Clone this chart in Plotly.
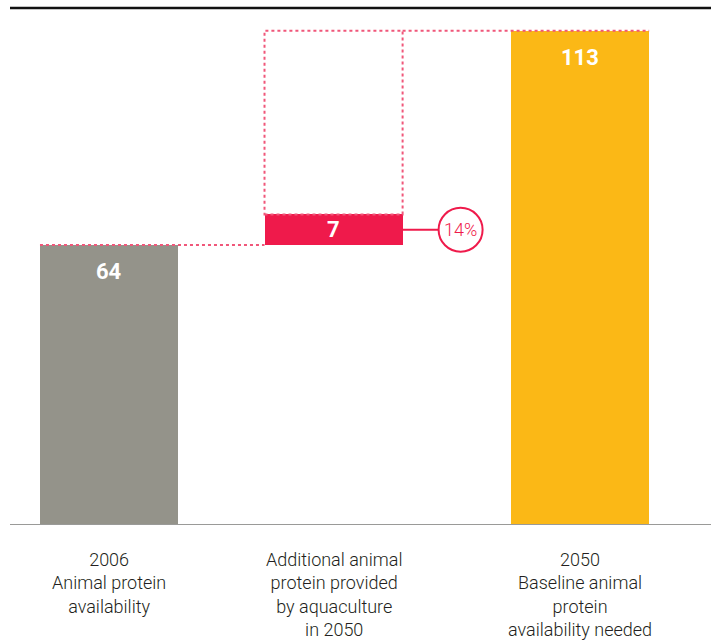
import plotly.graph_objects as go

# ---- data ----
categories = [
    "2006<br>Animal protein<br>availability",
    "Additional animal<br>protein provided<br>by aquaculture<br>in 2050",
    "2050<br>Baseline animal<br>protein<br>availability needed",
]
values = [64, 7, 113]
bases = [0, 64, 0]
value_labels = ["64", "7", "113"]
share_label = "14%"

# ---- style ----
x_pos = [0, 1, 2.098]
bar_w = 0.615
colors = ["#94938a", "#ef1a4b", "#fbb816"]
dot_color = "#f0577a"
font_txt = "Liberation Sans Narrow, Roboto, Arial, sans-serif"

fig = go.Figure()
fig.add_trace(go.Bar(
    x=x_pos, y=values, base=bases, width=bar_w,
    marker=dict(color=colors, line=dict(width=0)),
    hoverinfo="skip", showlegend=False,
))

half = bar_w / 2
tops = [b + v for b, v in zip(bases, values)]
shapes = []
dot = dict(color=dot_color, width=2, dash="dot")
# line from gray top to red bar left
shapes.append(dict(type="line", xref="x", yref="y",
                   x0=x_pos[0] - half, x1=x_pos[1] - half, y0=tops[0], y1=tops[0], line=dot))
# dashed box above red bar up to final total
shapes.append(dict(type="rect", xref="x", yref="y",
                   x0=x_pos[1] - half, x1=x_pos[1] + half, y0=tops[1], y1=tops[2],
                   line=dot, fillcolor="rgba(0,0,0,0)"))
# line from box top to orange bar
shapes.append(dict(type="line", xref="x", yref="y",
                   x0=x_pos[1] + half, x1=x_pos[2] + half, y0=tops[2], y1=tops[2], line=dot))
# top rule
shapes.append(dict(type="line", xref="paper", yref="paper", x0=0, x1=1, y0=1, y1=1,
                   line=dict(color="#111111", width=2.5)))
# baseline
shapes.append(dict(type="line", xref="paper", yref="y", x0=0, x1=1, y0=0, y1=0,
                   line=dict(color="#9a9a98", width=2)))
# connector and circle
mid_red = bases[1] + values[1] / 2
shapes.append(dict(type="line", xref="x", yref="y", xsizemode="pixel", xanchor=x_pos[1] + half,
                   x0=0, x1=36, y0=mid_red, y1=mid_red, line=dict(color=colors[1], width=2)))
shapes.append(dict(type="circle", xref="x", yref="y", xsizemode="pixel", ysizemode="pixel",
                   xanchor=x_pos[1] + half, yanchor=mid_red,
                   x0=36, x1=80, y0=-22, y1=22,
                   line=dict(color=colors[1], width=2), fillcolor="white"))

annotations = []
for i in range(3):
    if i == 1:
        annotations.append(dict(x=x_pos[i], y=mid_red, xref="x", yref="y", text="<b>%s</b>" % value_labels[i],
                                showarrow=False, font=dict(family=font_txt, size=22, color="white"),
                                yanchor="middle"))
    else:
        annotations.append(dict(x=x_pos[i], y=tops[i], xref="x", yref="y", text="<b>%s</b>" % value_labels[i],
                                showarrow=False, font=dict(family=font_txt, size=22, color="white"),
                                yanchor="top", yshift=-12))
    annotations.append(dict(x=x_pos[i], y=0, xref="x", yref="paper", text=categories[i],
                            showarrow=False,
                            font=dict(family=font_txt, size=18, color="#231f20", weight=300),
                            yanchor="top", yshift=-22, align="center"))
annotations.append(dict(x=x_pos[1] + half, y=mid_red, xref="x", yref="y", text=share_label,
                        showarrow=False, xshift=58,
                        font=dict(family=font_txt, size=18, color=colors[1], weight=300)))

fig.update_layout(
    width=711, height=644,
    margin=dict(l=10, r=0, t=8, b=119),
    paper_bgcolor="white", plot_bgcolor="white",
    xaxis=dict(range=[-0.441, 2.681], showticklabels=False, showgrid=False, zeroline=False,
               showline=False, ticks=""),
    yaxis=dict(range=[0, 118.2], visible=False, showgrid=False, zeroline=False),
    shapes=shapes, annotations=annotations,
    bargap=0,
)

fig.write_html("out.html")
